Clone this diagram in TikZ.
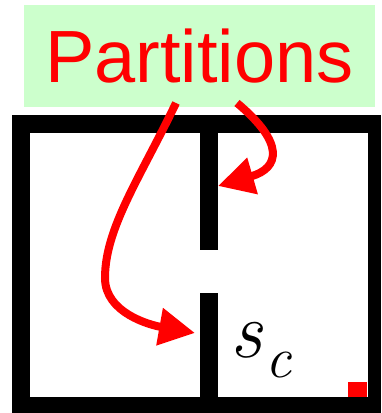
\documentclass[tikz,border=0pt]{standalone}
\usepackage{fontspec}
\newfontfamily\labelfont{Liberation Sans}
\usetikzlibrary{arrows.meta}
\definecolor{boxgreen}{HTML}{CCFFCC}
\definecolor{arrowred}{HTML}{FF0000}
\begin{document}
\begin{tikzpicture}[x=1pt,y=1pt,
  wall/.style={fill=black},
  redarrow/.style={draw=arrowred, line width=8pt, -{Triangle[length=36pt,width=36pt]}},
  title/.style={fill=boxgreen, text=arrowred, inner sep=0pt, minimum width=351pt, minimum height=102pt,
    text height=54pt, text depth=0pt, font=\labelfont\fontsize{74}{80}\selectfont}]
\useasboundingbox (0,0) rectangle (381,413);
% frame
\fill[wall] (12,280) rectangle (381,298);
\fill[wall] (12,0) rectangle (30,298);
\fill[wall] (368,0) rectangle (381,298);
\fill[wall] (12,0) rectangle (381,16);
\fill[wall] (200,163) rectangle (218,298);
\fill[wall] (200,0) rectangle (218,120);
% red square
\fill[arrowred] (348,16) rectangle (367,31);
% title
\node[title] (p) at (199.5,357) {Partitions};
% label
\node[anchor=base west, inner sep=0pt] (sc) at (230,55)
  {\fontsize{80}{80}\selectfont\itshape s\hspace{3pt}\raisebox{-20pt}{\fontsize{58}{60}\selectfont c}};
% arrows
\coordinate (a1s) at (237,310);
\coordinate (a1e) at (218,227);
\coordinate (a2s) at (176,310);
\coordinate (a2e) at (195,80);
\draw[redarrow] (a1s) .. controls (285,270) and (280,245) .. (a1e);
\draw[redarrow] (a2s) .. controls (140,235) and (105,185) .. (105,135) .. controls (105,100) and (150,88) .. (a2e);
\end{tikzpicture}
\end{document}
